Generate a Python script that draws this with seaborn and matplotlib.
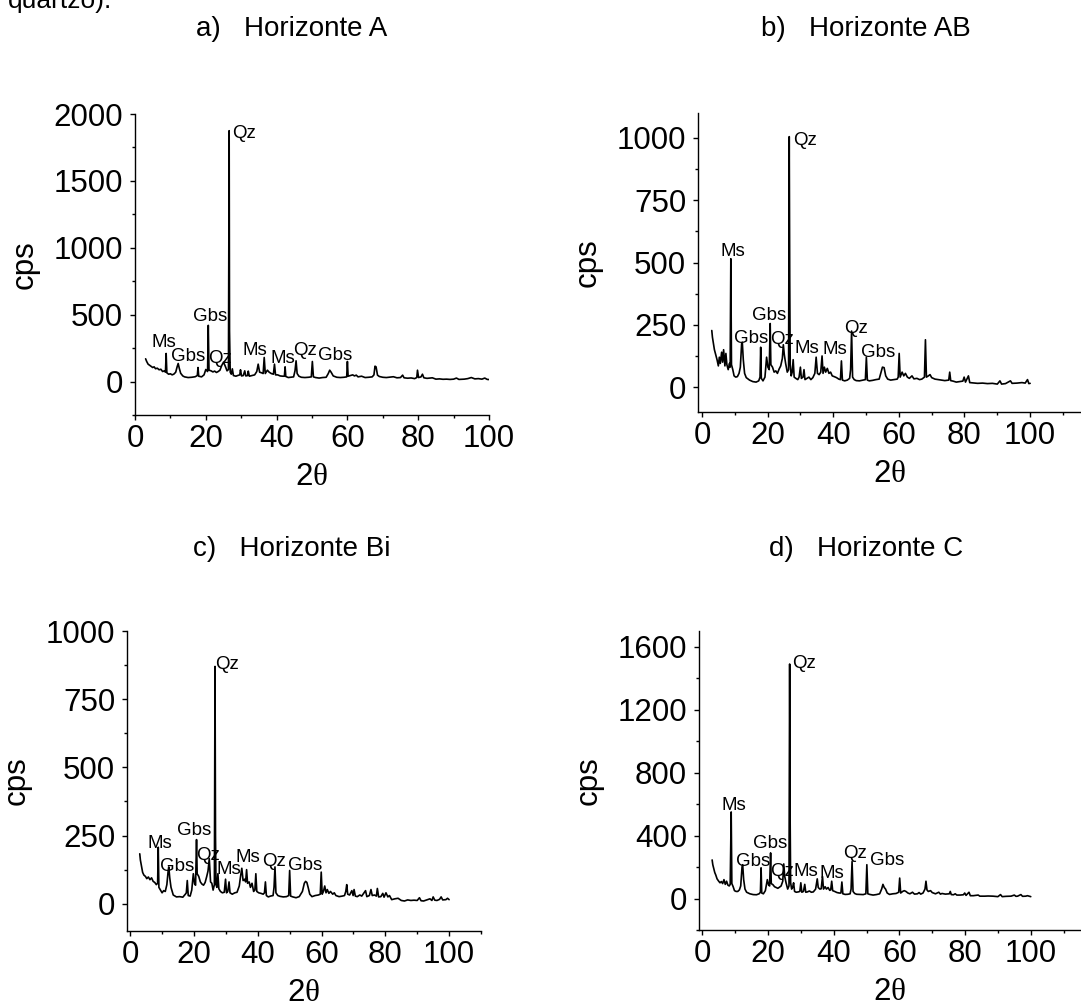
import matplotlib
matplotlib.use("Agg")
import matplotlib.pyplot as plt
import seaborn as sns
from matplotlib.ticker import MultipleLocator, FixedLocator

# diffractogram points (2theta, cps)
pattern_a = [(3.0,170),(3.3,150),(3.7,130),(4.2,120),(4.6,112),(5.0,105),(5.4,110),(5.8,96),(6.3,100),(6.8,88),(7.3,92),(7.8,75),(8.3,80),(8.6,70),
             (8.8,210),(9.0,65),(9.5,55),(10.0,58),(10.5,50),(11.0,56),(11.5,70),(11.9,110),(12.2,135),(12.5,100),(12.9,62),(13.5,42),(14.0,35),(15.0,30),(16.0,32),(17.0,36),(17.6,45),
             (17.8,105),(18.0,40),(18.8,35),(19.5,50),(20.0,90),(20.5,75),
             (20.7,420),(20.9,85),(21.5,80),(22.0,72),(22.5,78),(23.0,68),(23.5,75),(24.0,85),(24.5,120),(25.0,145),(25.5,115),(26.0,80),(26.4,90),
             (26.6,1875),(26.7,380),(26.9,70),(27.2,55),(27.5,95),(27.8,45),(28.5,40),(29.0,45),(29.6,50),(29.8,88),(30.1,42),(30.6,45),(31.0,80),(31.3,42),(31.8,45),(32.0,78),(32.3,40),(33.0,45),(33.8,50),(34.4,75),(34.8,130),(35.2,70),(35.8,65),
             (36.2,60),(36.5,180),(36.8,60),(37.4,85),(37.9,70),(38.5,60),(39.1,55),(39.4,130),(39.7,50),(40.3,50),(41.0,42),(41.7,40),(42.2,40),(42.4,110),(42.6,38),(43.3,30),(44.0,32),(44.8,35),(45.2,80),(45.5,155),(45.8,60),(46.3,40),(47.0,32),(48.0,30),(49.0,32),(49.8,35),(50.1,150),(50.4,35),(51.0,30),(52.0,26),(53.0,30),(54.0,32),(54.6,60),(55.0,85),(55.4,70),(56.0,42),(57.0,32),(58.0,30),(59.0,32),(59.8,35),
             (60.0,150),(60.2,40),(60.8,45),(61.5,50),(62.0,42),(62.5,48),(63.0,35),(64.0,40),(65.0,30),(66.0,32),(67.0,35),(67.5,50),(67.8,115),(68.1,110),(68.5,48),(69.0,38),(70.0,32),(71.0,30),(72.0,33),(73.0,36),(74.0,28),(75.0,30),(75.6,48),(76.0,28),(77.0,25),(78.0,27),(79.0,22),(79.6,30),(79.8,85),(80.1,30),(80.8,35),(81.2,55),(81.6,28),(82.5,24),(84.0,28),(85.0,18),(86.0,20),(87.0,17),(88.0,18),(89.0,16),(90.0,18),(90.8,26),(91.5,16),(93.0,18),(94.0,22),(95.0,30),(96.0,20),(97.0,22),(98.0,18),(98.8,26),(99.5,16),(100.0,15)]

pattern_b = [(3.0,227),(3.2,200),(3.5,175),(3.8,150),(4.2,130),(4.6,110),(5.0,85),(5.3,120),(5.6,95),(6.0,140),(6.3,100),(6.6,150),(7.0,85),(7.3,135),(7.6,90),(8.0,70),(8.4,95),(8.6,80),
             (8.8,515),(9.0,90),(9.4,70),(9.8,45),(10.3,40),(10.8,42),(11.3,55),(11.7,80),(12.1,175),(12.3,180),(12.6,110),(13.0,55),(13.5,38),(14.5,28),(15.5,22),(16.5,20),(17.3,25),(17.7,40),
             (17.9,160),(18.1,35),(18.6,25),(19.2,40),(19.7,120),(20.1,80),(20.5,70),
             (20.8,255),(21.0,90),(21.5,80),(22.0,60),(22.5,65),(23.0,55),(23.5,72),(24.0,85),(24.5,115),(24.8,170),(25.1,130),(25.5,95),(26.0,60),(26.4,70),
             (26.6,1005),(26.75,430),(26.9,90),(27.2,45),(27.5,60),(27.8,110),(28.1,40),(28.6,35),(29.2,30),(29.6,40),(30.0,80),(30.3,35),(30.8,40),(31.1,70),(31.4,30),(32.0,35),(32.6,40),(33.2,30),(33.8,38),(34.4,55),(34.8,120),(35.2,55),(35.7,50),(36.2,60),(36.6,125),(36.9,55),(37.3,80),(37.7,60),(38.2,75),(38.7,55),(39.2,60),(39.7,45),(40.3,42),(41.0,38),(41.7,32),(42.2,30),(42.5,105),(42.8,28),(43.5,25),(44.3,28),(45.0,35),(45.3,70),
             (45.6,225),(45.9,40),(46.4,30),(47.0,26),(48.0,25),(49.0,28),(49.8,30),(50.1,120),(50.4,28),(51.0,25),(52.0,27),(53.0,30),(54.0,32),(54.6,60),(55.0,80),(55.5,78),(56.0,45),(56.6,32),(57.5,28),(58.5,30),(59.5,32),(59.8,40),
             (60.1,135),(60.4,40),(61.0,60),(61.5,45),(62.0,55),(62.6,40),(63.2,35),(64.0,45),(64.6,33),(65.5,35),(66.3,30),(67.0,32),(67.8,40),(68.1,190),(68.4,40),(69.0,45),(69.5,50),(70.0,38),(71.0,32),(72.0,30),(73.0,28),(74.0,26),(75.2,28),(75.5,60),(75.8,26),(76.5,24),(77.5,20),(78.5,22),(79.5,24),(79.9,40),(80.3,20),(81.2,45),(81.6,18),(82.5,17),(84.0,15),(85.5,16),(87.0,14),(88.5,15),(90.0,12),(90.8,25),(91.3,12),(92.5,14),(94.0,25),(94.5,15),(96.0,16),(97.5,18),(98.5,16),(99.2,30),(99.6,14),(100.0,15)]

pattern_c = [(3.0,183),(3.2,160),(3.5,140),(3.9,115),(4.3,105),(4.8,100),(5.2,92),(5.7,98),(6.2,88),(6.7,95),(7.2,82),(7.7,78),(8.2,70),(8.6,75),
             (8.8,207),(9.0,60),(9.5,50),(10.0,40),(10.5,48),(11.0,45),(11.5,70),(11.9,120),(12.1,135),(12.4,95),(12.8,60),(13.5,32),(14.5,25),(15.5,26),(16.5,24),(17.3,35),(17.6,40),
             (17.9,85),(18.2,30),(18.8,28),(19.3,50),(19.8,110),(20.2,72),(20.5,68),
             (20.8,235),(21.0,110),(21.5,100),(22.0,80),(22.5,72),(23.0,68),(23.5,78),(24.0,100),(24.4,120),(24.8,165),(25.2,80),(25.6,75),(26.0,50),(26.4,70),
             (26.6,870),(26.75,250),(26.9,70),(27.2,60),(27.5,110),(27.8,55),(28.3,45),(28.9,40),(29.5,42),(29.9,90),(30.2,40),(30.6,45),(31.0,80),(31.3,40),(32.0,35),(32.8,40),(33.5,42),(34.2,65),(34.6,100),(35.0,130),(35.4,85),(35.9,90),(36.2,80),(36.5,125),(36.8,75),(37.3,80),(37.7,60),(38.2,75),(38.7,45),(39.1,50),(39.4,110),(39.7,45),(40.3,40),(41.0,38),(41.7,35),(42.1,40),(42.4,80),(42.7,30),(43.3,25),(44.0,28),(44.8,30),(45.1,60),
             (45.4,135),(45.7,40),(46.3,30),(47.0,27),(48.0,25),(49.0,26),(49.7,30),(50.0,122),(50.3,28),(51.0,25),(52.0,22),(53.0,26),(54.0,45),(54.6,75),(55.0,82),(55.4,78),(55.8,60),(56.3,35),(57.0,26),(58.0,30),(59.0,32),(59.6,35),
             (59.9,116),(60.2,35),(60.6,45),(61.0,65),(61.4,40),(61.8,52),(62.3,38),(62.8,45),(63.5,35),(64.0,40),(64.5,30),(65.5,26),(66.5,28),(67.2,30),(67.6,45),(67.9,70),(68.2,35),(68.8,32),(69.5,48),(69.9,30),(70.2,52),(70.6,28),(71.2,26),(72.0,32),(72.6,28),(73.2,38),(73.8,48),(74.2,26),(75.0,30),(75.5,52),(75.9,30),(76.6,32),(77.2,28),(77.5,56),(77.9,25),(78.6,26),(79.2,38),(79.6,24),(80.2,40),(80.8,25),(81.3,30),(82.0,15),(83.0,18),(84.0,20),(85.0,12),(86.0,10),(87.0,14),(88.0,12),(89.0,13),(90.0,12),(90.7,22),(91.2,11),(92.0,10),(93.0,14),(94.0,18),(94.6,12),(95.0,25),(95.5,13),(96.2,12),(97.0,16),(97.5,25),(98.0,14),(99.0,15),(99.5,20),(100.0,15)]

pattern_d = [(3.0,245),(3.2,215),(3.5,190),(3.8,165),(4.1,150),(4.5,125),(5.0,110),(5.4,100),(5.8,108),(6.2,95),(6.6,120),(7.0,90),(7.4,110),(7.8,85),(8.2,80),(8.5,90),
             (8.8,550),(9.0,95),(9.4,75),(9.8,50),(10.3,45),(10.8,45),(11.3,55),(11.7,80),(12.1,200),(12.3,215),(12.6,120),(13.0,60),(13.5,40),(14.5,30),(15.5,25),(16.5,24),(17.3,30),(17.7,40),
             (17.9,195),(18.1,35),(18.6,30),(19.2,50),(19.8,120),(20.2,85),(20.5,80),
             (20.8,290),(21.0,95),(21.5,88),(22.0,75),(22.5,70),(23.0,65),(23.5,72),(24.0,80),(24.5,110),(24.8,220),(25.1,140),(25.5,100),(26.0,60),(26.4,80),
             (26.6,1490),(26.75,500),(26.9,100),(27.2,60),(27.5,70),(27.8,100),(28.1,45),(28.6,40),(29.2,42),(29.7,45),(30.0,100),(30.3,40),(30.8,45),(31.2,90),(31.5,40),(32.0,42),(32.6,48),(33.2,40),(33.8,42),(34.5,60),(35.0,125),(35.3,70),(35.8,60),(36.2,62),(36.6,140),(36.9,60),(37.4,75),(37.8,60),(38.3,70),(38.8,52),(39.1,55),(39.4,110),(39.7,50),(40.3,45),(41.0,38),(41.7,35),(42.2,35),(42.5,105),(42.8,30),(43.5,26),(44.3,27),(45.0,30),(45.3,60),
             (45.6,235),(45.9,45),(46.4,32),(47.0,27),(48.0,26),(49.0,25),(49.8,30),(50.1,215),(50.4,30),(51.0,26),(52.0,22),(53.0,25),(54.0,30),(54.6,60),(55.0,90),(55.4,70),(55.8,60),(56.3,35),(57.0,26),(58.0,30),(59.0,32),(59.8,40),
             (60.1,130),(60.4,35),(61.0,45),(61.5,50),(62.0,45),(62.6,35),(63.2,30),(64.0,40),(64.6,28),(65.5,30),(66.0,38),(66.5,28),(67.2,35),(67.8,60),(68.1,110),(68.4,55),(68.8,45),(69.5,50),(70.0,38),(71.0,30),(72.0,40),(72.5,28),(73.0,32),(74.0,28),(75.2,30),(75.5,45),(75.8,25),(76.5,24),(77.0,30),(77.5,22),(78.5,22),(79.5,24),(79.9,35),(80.3,20),(81.2,40),(81.6,18),(82.5,18),(84.0,22),(84.5,15),(86.0,15),(87.0,16),(88.5,15),(90.0,12),(90.8,25),(91.3,12),(92.5,14),(94.0,15),(95.0,22),(95.5,14),(96.0,15),(97.0,25),(97.5,14),(98.5,15),(99.0,18),(100.0,12)]

# mineral labels: (text, 2theta, cps)
labels_a = [("Ms",8.2,262),("Gbs",15.1,150),("Gbs",21.1,449),("Qz",24.0,142),("Qz",30.8,1821),
            ("Ms",33.8,200),("Ms",41.7,142),("Qz",48.0,200),("Gbs",56.5,162)]
labels_b = [("Ms",9.5,526),("Gbs",15.1,176),("Gbs",20.4,270),("Qz",24.3,174),("Qz",31.3,970),
            ("Ms",32.0,136),("Ms",40.5,133),("Qz",46.8,219),("Gbs",53.8,119)]
labels_c = [("Ms",9.4,206),("Gbs",14.7,119),("Gbs",20.2,251),("Qz",24.3,162),("Qz",30.4,860),
            ("Ms",30.9,110),("Ms",37.0,153),("Qz",45.2,138),("Gbs",55.0,125)]
labels_d = [("Ms",9.7,563),("Gbs",15.5,207),("Gbs",20.6,320),("Qz",24.2,140),("Qz",31.1,1462),
            ("Ms",31.4,144),("Ms",39.6,129),("Qz",46.6,256),("Gbs",56.2,214)]

titles = ["a)   Horizonte A", "b)   Horizonte AB", "c)   Horizonte Bi", "d)   Horizonte C"]

sns.set_theme(style="ticks")
plt.rcParams['font.family'] = ['Liberation Sans', 'DejaVu Sans']
plt.rcParams['mathtext.fontset'] = 'custom'
plt.rcParams['mathtext.rm'] = 'Liberation Serif'

W, H = 1081, 1008
fig = plt.figure(figsize=(W / 100, H / 100), dpi=100)


def px_axes(left, right, top, bottom):
    return fig.add_axes([left / W, 1 - bottom / H, (right - left) / W, (bottom - top) / H])


panels = [
    dict(box=(135, 489, 114, 415), data=pattern_a, labels=labels_a, xlim=(0, 100), ylim=(-250, 2000),
         ymaj=500, ymin=250, title_xy=(292, 29)),
    dict(box=(698, 1081, 113, 412), data=pattern_b, labels=labels_b, xlim=(-1.2, 115.5), ylim=(-100, 1100),
         ymaj=250, ymin=125, title_xy=(866, 29)),
    dict(box=(127, 481, 631, 931), data=pattern_c, labels=labels_c, xlim=(-1.0, 110), ylim=(-100, 1000),
         ymaj=250, ymin=125, title_xy=(292, 549)),
    dict(box=(699, 1081, 631, 930), data=pattern_d, labels=labels_d, xlim=(-1.0, 115.3), ylim=(-200, 1700),
         ymaj=400, ymin=200, title_xy=(866, 549)),
]

for p, title in zip(panels, titles):
    ax = px_axes(*p['box'])
    tt, cps = zip(*p['data'])
    sns.lineplot(x=list(tt), y=list(cps), ax=ax, color='black', linewidth=1.2,
                 estimator=None, sort=False)
    for txt, lx, ly in p['labels']:
        ax.text(lx, ly, txt, fontsize=13.5, ha='center', va='baseline', color='black')
    ax.set_xlim(*p['xlim'])
    ax.set_ylim(*p['ylim'])
    ax.xaxis.set_major_locator(FixedLocator([0, 20, 40, 60, 80, 100]))
    ax.xaxis.set_minor_locator(FixedLocator([10, 30, 50, 70, 90, 110]))
    ax.yaxis.set_major_locator(MultipleLocator(p['ymaj']))
    ax.yaxis.set_minor_locator(MultipleLocator(p['ymin']))
    ax.tick_params(which='major', direction='out', length=3.5, width=1, colors='black',
                   labelsize=22.5)
    ax.tick_params(which='minor', direction='out', length=2.5, width=1, colors='black')
    ax.tick_params(axis='x', pad=3)
    ax.tick_params(axis='y', pad=5)
    for s in ['left', 'bottom']:
        ax.spines[s].set_linewidth(1)
        ax.spines[s].set_color('black')
    sns.despine(ax=ax)
    ax.set_xlabel(r'2$\mathrm{\theta}$', fontsize=22.5, labelpad=6, color='black')
    ax.set_ylabel('cps', fontsize=22.5, labelpad=10, color='black')
    fig.text(p['title_xy'][0] / W, 1 - p['title_xy'][1] / H, title, fontsize=20,
             ha='center', va='center', color='black')

# remains of the sentence cut off above the figure
fig.text(8 / W, 1 - 8 / H, "quartzo).", fontsize=19, ha='left', va='baseline', color='black')

fig.savefig("out.png", dpi=100, facecolor='white')
